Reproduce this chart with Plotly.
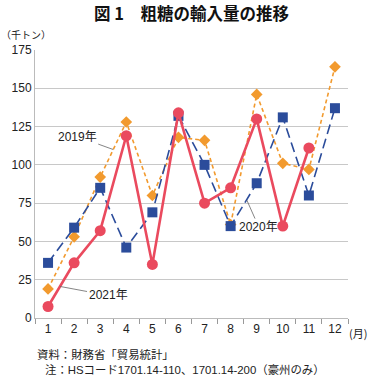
import plotly.graph_objects as go

months = ["1", "2", "3", "4", "5", "6", "7", "8", "9", "10", "11", "12"]
y2019 = [19, 53, 92, 128, 80, 118, 116, 61, 146, 101, 97, 164]
y2020 = [36, 59, 85, 46, 69, 132, 100, 60, 88, 131, 80, 137]
y2021 = [7.5, 36, 57, 119, 35, 134, 75, 85, 130, 60, 111, None]
yticks = [0, 25, 50, 75, 100, 125, 150, 175]

FONT = "Liberation Sans, Noto Sans CJK JP, sans-serif"
JP = "Noto Sans CJK JP, sans-serif"

fig = go.Figure()
fig.add_trace(go.Scatter(
    x=months, y=y2019, mode="lines+markers", name="2019年",
    line=dict(color="#F29A2E", width=1.6, dash="4px,3px"),
    marker=dict(symbol="diamond", size=9, color="#F29A2E"),
))
fig.add_trace(go.Scatter(
    x=months, y=y2020, mode="lines+markers", name="2020年",
    line=dict(color="#2B4C9B", width=1.6, dash="10px,5px"),
    marker=dict(symbol="square", size=10, color="#2B4C9B"),
))
fig.add_trace(go.Scatter(
    x=months, y=y2021, mode="lines+markers", name="2021年",
    line=dict(color="#EA4A5E", width=2.6),
    marker=dict(symbol="circle", size=11, color="#EA4A5E"),
))

ann_font = dict(family=FONT, size=12, color="#222")
annotations = [
    dict(x=2.5, y=110, ax=-36, ay=-13, text="2019年"),
    dict(x=7.62, y=77, ax=12, ay=27, text="2020年"),
    dict(x=0.46, y=20.6, ax=48, ay=9, text="2021年"),
]
anns = []
for a in annotations:
    anns.append(dict(xref="x", yref="y", showarrow=True, arrowhead=0,
                     arrowwidth=0.8, arrowcolor="#666", font=ann_font, **a))

anns += [
    dict(xref="paper", yref="paper", x=0.5, y=1, xanchor="center", yanchor="middle",
         text="<b>図 1　粗糖の輸入量の推移</b>", showarrow=False,
         font=dict(family=JP, size=16.5, color="#111"), yshift=37),
    dict(xref="paper", yref="paper", x=0, y=1, xanchor="left", yanchor="middle",
         text="（千トン）", showarrow=False, xshift=-36, yshift=16,
         font=dict(family=JP, size=10, color="#222")),
    dict(xref="paper", yref="paper", x=1, y=0, xanchor="left", yanchor="middle",
         text="(月)", showarrow=False, xshift=-1, yshift=-15,
         font=dict(family=JP, size=11, color="#222")),
    dict(xref="paper", yref="paper", x=0, y=0, xanchor="left", yanchor="middle",
         text="資料：財務省「貿易統計」", showarrow=False, xshift=0, yshift=-36,
         font=dict(family=FONT, size=11.4, color="#222")),
    dict(xref="paper", yref="paper", x=0, y=0, xanchor="left", yanchor="middle",
         text="注：HSコード1701.14-110、1701.14-200（豪州のみ）", showarrow=False,
         xshift=8, yshift=-51,
         font=dict(family=FONT, size=11.4, color="#222")),
]

fig.update_layout(
    width=370, height=379,
    margin=dict(l=35, r=22, t=50, b=61),
    paper_bgcolor="white", plot_bgcolor="white",
    showlegend=False,
    font=dict(family=FONT, size=12, color="#222"),
    annotations=anns,
)
fig.update_xaxes(
    type="category", range=[-0.5, 11.5], tickson="boundaries",
    ticks="outside", ticklen=5, tickcolor="#999",
    showline=True, linecolor="#bbb", showgrid=False,
    tickfont=dict(family=FONT, size=12, color="#222"),
)
fig.update_yaxes(
    range=[0, 175], tickvals=yticks, showgrid=True, gridcolor="#c8c8c8",
    showline=True, linecolor="#bbb", zeroline=False,
    ticks="", tickfont=dict(family=FONT, size=12, color="#222"),
)

fig.write_html("out.html", config={"displayModeBar": False},
               post_script="document.body.style.margin='0';")
